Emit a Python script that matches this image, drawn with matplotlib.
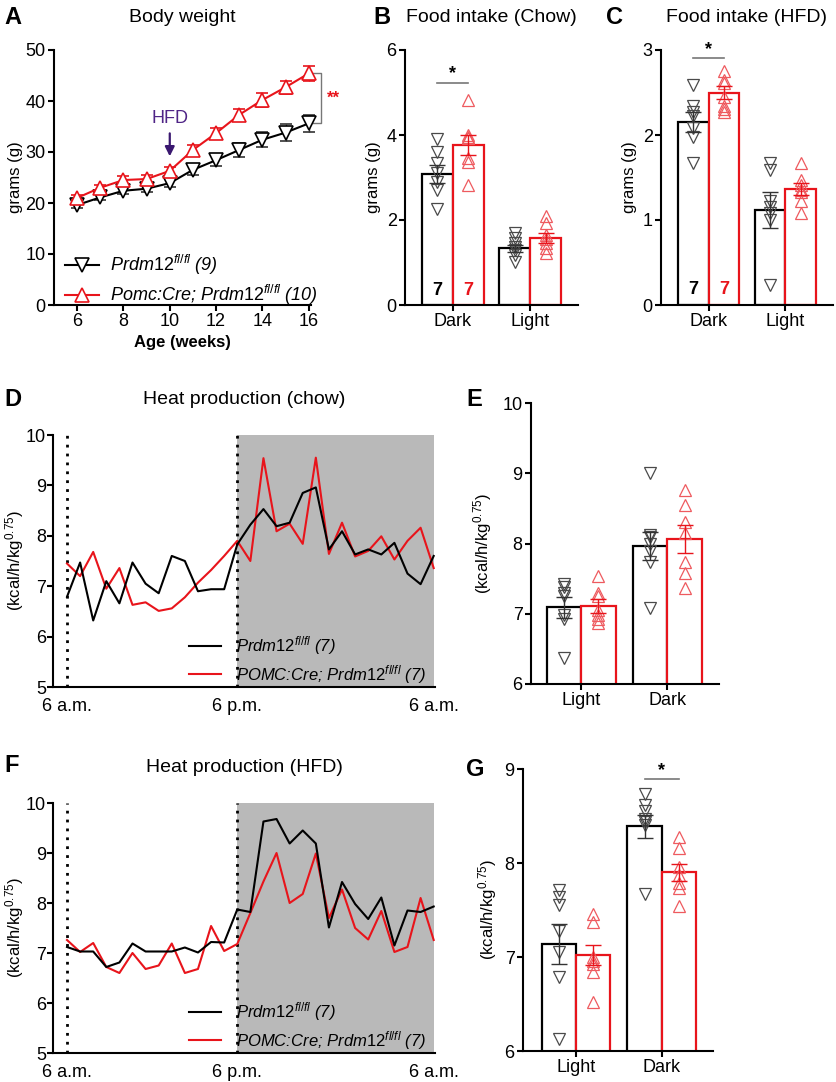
import matplotlib
matplotlib.use("Agg")
import matplotlib.pyplot as plt
from matplotlib.lines import Line2D
import numpy as np

plt.rcParams['font.family'] = ['Liberation Sans', 'DejaVu Sans']
plt.rcParams['mathtext.fontset'] = 'custom'
plt.rcParams['mathtext.rm'] = 'Liberation Sans'
plt.rcParams['mathtext.it'] = 'Liberation Sans:italic'
plt.rcParams['mathtext.bf'] = 'Liberation Sans:bold'

# ---------------- data ----------------
# A: body weight
weeks = [6, 7, 8, 9, 10, 11, 12, 13, 14, 15, 16]
bw_ctrl = [19.6, 21.1, 22.4, 22.8, 23.9, 26.5, 28.4, 30.4, 32.4, 33.8, 35.6]
bw_ctrl_sem = [0.5, 0.6, 0.7, 0.7, 0.8, 1.0, 1.2, 1.4, 1.5, 1.6, 1.7]
bw_ko = [21.0, 23.0, 24.5, 24.7, 26.3, 30.4, 33.7, 37.3, 40.2, 42.7, 45.4]
bw_ko_sem = [0.5, 0.6, 0.7, 0.7, 0.8, 1.0, 1.1, 1.2, 1.3, 1.3, 1.4]

# B: food intake chow (Dark, Light)
fi_cats = ['Dark', 'Light']
chow_ctrl_pts = [[3.9, 3.6, 3.35, 3.1, 2.9, 2.7, 2.25], [1.69, 1.57, 1.45, 1.37, 1.29, 1.18, 1.02]]
chow_ko_pts = [[4.82, 4.0, 3.95, 3.92, 3.45, 3.37, 2.82], [2.1, 1.93, 1.65, 1.55, 1.45, 1.33, 1.22]]
chow_ctrl_mean = [3.08, 1.33]
chow_ctrl_sem = [0.21, 0.08]
chow_ko_mean = [3.76, 1.57]
chow_ko_sem = [0.24, 0.12]

# C: food intake HFD
hfd_ctrl_pts = [[2.59, 2.34, 2.27, 2.22, 2.08, 1.98, 1.67], [1.67, 1.59, 1.22, 1.15, 1.08, 1.0, 0.24]]
hfd_ko_pts = [[2.75, 2.65, 2.61, 2.45, 2.34, 2.31, 2.27], [1.67, 1.47, 1.41, 1.35, 1.33, 1.22, 1.08]]
hfd_ctrl_mean = [2.15, 1.12]
hfd_ctrl_sem = [0.12, 0.21]
hfd_ko_mean = [2.5, 1.36]
hfd_ko_sem = [0.08, 0.07]

# D/F time series (hourly, 6 a.m. -> 6 a.m.)
time_ticks = [0, 13, 28]
time_labels = ['6 a.m.', '6 p.m.', '6 a.m.']
heat_chow_ctrl = [6.79, 7.47, 6.32, 7.1, 6.66, 7.47, 7.05, 6.86, 7.6, 7.5, 6.9, 6.94, 6.94, 7.83,
                  8.22, 8.53, 8.19, 8.26, 8.85, 8.96, 7.73, 8.09, 7.63, 7.73, 7.63, 7.86, 7.25, 7.04, 7.6]
heat_chow_ko = [7.45, 7.2, 7.68, 6.95, 7.36, 6.63, 6.68, 6.51, 6.56, 6.78, 7.07, 7.32, 7.6, 7.9,
                7.5, 9.54, 8.09, 8.24, 7.84, 9.55, 7.64, 8.26, 7.59, 7.7, 7.99, 7.53, 7.9, 8.16, 7.36]
heat_hfd_ctrl = [7.12, 7.03, 7.03, 6.72, 6.81, 7.19, 7.03, 7.03, 7.03, 7.11, 7.01, 7.22, 7.21, 7.87,
                 7.82, 9.63, 9.68, 9.19, 9.45, 9.19, 7.51, 8.42, 7.98, 7.68, 8.11, 7.15, 7.85, 7.82, 7.93]
heat_hfd_ko = [7.26, 7.02, 7.2, 6.72, 6.6, 7.0, 6.68, 6.75, 7.19, 6.6, 6.68, 7.54, 7.04, 7.18,
               7.8, 8.43, 9.0, 8.0, 8.18, 8.99, 7.7, 8.27, 7.5, 7.27, 7.84, 7.02, 7.12, 8.1, 7.26]

# E: heat production chow (Light, Dark)
hp_cats = ['Light', 'Dark']
e_ctrl_pts = [[7.43, 7.38, 7.30, 7.25, 6.98, 6.92, 6.37], [9.0, 8.12, 8.09, 8.0, 7.9, 7.74, 7.08]]
e_ko_pts = [[7.54, 7.3, 7.25, 7.05, 6.98, 6.92, 6.87], [8.76, 8.55, 8.3, 8.15, 7.74, 7.58, 7.36]]
e_ctrl_mean = [7.09, 7.97]
e_ctrl_sem = [0.15, 0.2]
e_ko_mean = [7.11, 8.06]
e_ko_sem = [0.1, 0.2]

# G: heat production HFD
g_ctrl_pts = [[7.71, 7.64, 7.55, 7.28, 7.05, 6.79, 6.13], [8.73, 8.62, 8.55, 8.47, 8.44, 8.4, 7.67]]
g_ko_pts = [[7.46, 7.37, 7.0, 6.96, 6.93, 6.84, 6.52], [8.28, 8.16, 7.96, 7.87, 7.79, 7.73, 7.54]]
g_ctrl_mean = [7.14, 8.39]
g_ctrl_sem = [0.21, 0.12]
g_ko_mean = [7.02, 7.9]
g_ko_sem = [0.11, 0.09]

# ---------------- style ----------------
W, H = 837, 1082
fig = plt.figure(figsize=(W / 100, H / 100), dpi=100)
RED = '#e8141b'
PTRED = '#ee5a5f'
PTGRAY = '#4a4a4a'
PURPLE = '#4f2486'
TICK_FS = 13
LAB_FS = 12
TITLE_FS = 14
LET_FS = 17


def add_ax(x0, y0, x1, y1):
    return fig.add_axes([x0 / W, 1 - y1 / H, (x1 - x0) / W, (y1 - y0) / H])


def style(ax):
    for s in ['top', 'right']:
        ax.spines[s].set_visible(False)
    for s in ['left', 'bottom']:
        ax.spines[s].set_linewidth(1.5)
    ax.tick_params(width=1.5, length=4, labelsize=TICK_FS, pad=2)


ctrl_label = r'$\mathit{Prdm12}^{\mathit{fl/fl}}$'


def bar_panel(ax, cats, cm, cs, km, ks, cpts, kpts, ylim, yticks):
    style(ax)
    pos = np.arange(len(cats))
    w = 0.4
    ax.bar(pos - w / 2, cm, width=w, facecolor='white', edgecolor='black', linewidth=1.6, zorder=1)
    ax.bar(pos + w / 2, km, width=w, facecolor='white', edgecolor=RED, linewidth=1.6, zorder=1)
    for i in range(len(cats)):
        ax.plot([pos[i] - w / 2] * len(cpts[i]), cpts[i], linestyle='none', marker='v', markersize=8,
                markerfacecolor='none', markeredgecolor=PTGRAY, markeredgewidth=0.9, zorder=3)
        ax.plot([pos[i] + w / 2] * len(kpts[i]), kpts[i], linestyle='none', marker='^', markersize=8,
                markerfacecolor='none', markeredgecolor=PTRED, markeredgewidth=0.9, zorder=3)
    ax.errorbar(pos - w / 2, cm, yerr=cs, fmt='none', ecolor='#333333', elinewidth=1.0, capsize=6,
                capthick=1.0, zorder=4)
    ax.errorbar(pos + w / 2, km, yerr=ks, fmt='none', ecolor=RED, elinewidth=1.0, capsize=6,
                capthick=1.0, zorder=4)
    ax.set_xlim(-0.62, 1.62)
    ax.set_ylim(*ylim)
    ax.set_yticks(yticks)
    ax.set_xticks(pos)
    ax.set_xticklabels(cats)
    return pos, w


def sig(ax, x0, x1, y, dy):
    ax.plot([x0, x1], [y, y], color='#777777', linewidth=1.2, clip_on=False)
    ax.text((x0 + x1) / 2, y + dy, '*', ha='center', va='center', fontsize=13, fontweight='bold')


# ---------------- A ----------------
axA = add_ax(54, 50, 311, 305)
style(axA)
axA.errorbar(weeks, bw_ctrl, yerr=bw_ctrl_sem, color='black', linewidth=1.5, marker='v', markersize=10,
             markerfacecolor='white', markeredgecolor='black', markeredgewidth=1.2, capsize=4, elinewidth=1,
             ecolor='#333333', zorder=3, clip_on=False)
axA.errorbar(weeks, bw_ko, yerr=bw_ko_sem, color=RED, linewidth=1.5, marker='^', markersize=10,
             markerfacecolor='white', markeredgecolor=RED, markeredgewidth=1.2, capsize=4, elinewidth=1,
             ecolor=RED, zorder=4, clip_on=False)
axA.set_xlim(5.0, 16.1)
axA.set_ylim(0, 50)
axA.set_xticks([6, 8, 10, 12, 14, 16])
axA.set_yticks([0, 10, 20, 30, 40, 50])
axA.set_xlabel('Age (weeks)', fontsize=LAB_FS, fontweight='bold', labelpad=3)
axA.set_ylabel('grams (g)', fontsize=LAB_FS, labelpad=2)
axA.set_title('Body weight', fontsize=TITLE_FS, pad=20)
handlesA = [Line2D([], [], color='black', linewidth=1.5, marker='v', markersize=10, markerfacecolor='white',
                   markeredgecolor='black', markeredgewidth=1.2),
            Line2D([], [], color=RED, linewidth=1.5, marker='^', markersize=10, markerfacecolor='white',
                   markeredgecolor=RED, markeredgewidth=1.2)]
labelsA = [ctrl_label + ' (9)', 'Pomc:Cre; ' + ctrl_label + ' (10)']
axA.legend(handlesA, labelsA, loc='lower left', bbox_to_anchor=(0.0, -0.05), frameon=False,
           prop={'size': 13, 'style': 'italic'}, handlelength=1.9, handletextpad=0.6,
           labelspacing=0.3, borderaxespad=0.2)
# bracket and significance
bx0, bx1 = 16.2, 16.55
axA.plot([bx0, bx1, bx1, bx0], [bw_ko[-1], bw_ko[-1], bw_ctrl[-1], bw_ctrl[-1]], color='#777777',
         linewidth=1.0, clip_on=False)
axA.text(16.8, (bw_ko[-1] + bw_ctrl[-1]) / 2, '**', color=RED, fontsize=12, fontweight='bold',
         ha='left', va='center', clip_on=False)
axA.text(10, 36.5, 'HFD', color=PURPLE, fontsize=13, ha='center', va='center')
axA.annotate('', xy=(10, 28.6), xytext=(10, 34.2),
             arrowprops=dict(arrowstyle='-|>', color='#3a1870', lw=1.6, mutation_scale=14))

# ---------------- B ----------------
axB = add_ax(405, 50, 578, 305)
bar_panel(axB, fi_cats, chow_ctrl_mean, chow_ctrl_sem, chow_ko_mean, chow_ko_sem,
          chow_ctrl_pts, chow_ko_pts, (0, 6), [0, 2, 4, 6])
axB.set_ylabel('grams (g)', fontsize=LAB_FS, labelpad=4)
axB.set_title('Food intake (Chow)', fontsize=TITLE_FS, pad=20)
sig(axB, -0.2, 0.2, 5.22, 0.22)
axB.text(-0.2, 0.35, '7', ha='center', va='center', fontsize=13, fontweight='bold', color='black')
axB.text(0.2, 0.35, '7', ha='center', va='center', fontsize=13, fontweight='bold', color=RED)

# ---------------- C ----------------
axC = add_ax(661, 50, 833, 305)
bar_panel(axC, fi_cats, hfd_ctrl_mean, hfd_ctrl_sem, hfd_ko_mean, hfd_ko_sem,
          hfd_ctrl_pts, hfd_ko_pts, (0, 3), [0, 1, 2, 3])
axC.set_ylabel('grams (g)', fontsize=LAB_FS, labelpad=4)
axC.set_title('Food intake (HFD)', fontsize=TITLE_FS, pad=20)
sig(axC, -0.2, 0.2, 2.91, 0.1)
axC.text(-0.2, 0.18, '7', ha='center', va='center', fontsize=13, fontweight='bold', color='black')
axC.text(0.2, 0.18, '7', ha='center', va='center', fontsize=13, fontweight='bold', color=RED)


# ---------------- D / F ----------------
def time_panel(ax, ctrl, ko, title):
    style(ax)
    ax.tick_params(axis='y', pad=1)
    t = np.arange(len(ctrl))
    ax.axvspan(time_ticks[1], time_ticks[2], color='#b9b9b9', zorder=0, linewidth=0)
    for xv in time_ticks[:2]:
        ax.axvline(xv, color='black', linestyle=(0, (1, 2.2)), linewidth=2.0, zorder=1)
    ax.plot(t, ctrl, color='black', linewidth=1.5, zorder=3, label=ctrl_label + ' (7)')
    ax.plot(t, ko, color=RED, linewidth=1.5, zorder=2, label='POMC:Cre; ' + ctrl_label + ' (7)')
    ax.set_xlim(-1.07, 28.1)
    ax.set_ylim(5, 10)
    ax.set_yticks([5, 6, 7, 8, 9, 10])
    ax.set_xticks(time_ticks)
    ax.set_xticklabels(time_labels)
    ax.tick_params(axis='x', length=0, pad=8)
    ax.set_ylabel(r'(kcal/h/kg$^{0.75}$)', fontsize=LAB_FS, labelpad=0)
    ax.set_title(title, fontsize=TITLE_FS, pad=22)
    ax.legend(loc='lower left', bbox_to_anchor=(0.33, -0.035), frameon=False,
              prop={'size': 12, 'style': 'italic'}, handlelength=1.9, handletextpad=0.9,
              labelspacing=0.35, borderaxespad=0.2)


axD = add_ax(53, 435, 435, 687)
time_panel(axD, heat_chow_ctrl, heat_chow_ko, 'Heat production (chow)')
axF = add_ax(53, 803, 435, 1053)
time_panel(axF, heat_hfd_ctrl, heat_hfd_ko, 'Heat production (HFD)')

# ---------------- E ----------------
axE = add_ax(531, 403, 719, 684)
bar_panel(axE, hp_cats, e_ctrl_mean, e_ctrl_sem, e_ko_mean, e_ko_sem, e_ctrl_pts, e_ko_pts,
          (6, 10), [6, 7, 8, 9, 10])
axE.set_xlim(-0.58, 1.6)
axE.set_ylabel(r'(kcal/h/kg$^{0.75}$)', fontsize=LAB_FS, labelpad=6)

# ---------------- G ----------------
axG = add_ax(523, 769, 713, 1051)
bar_panel(axG, hp_cats, g_ctrl_mean, g_ctrl_sem, g_ko_mean, g_ko_sem, g_ctrl_pts, g_ko_pts,
          (6, 9), [6, 7, 8, 9])
axG.set_xlim(-0.62, 1.6)
axG.set_ylabel(r'(kcal/h/kg$^{0.75}$)', fontsize=LAB_FS, labelpad=4)
sig(axG, 0.8, 1.2, 8.89, 0.09)

# ---------------- panel letters ----------------
for letter, (x, y) in {'A': (4, 18), 'B': (373, 18), 'C': (606, 18), 'D': (4, 400),
                       'E': (466, 400), 'F': (4, 765), 'G': (466, 770)}.items():
    fig.text(x / W, 1 - y / H, letter, fontsize=LET_FS, fontweight='bold', ha='left', va='center')

fig.savefig('out.png', dpi=100)
